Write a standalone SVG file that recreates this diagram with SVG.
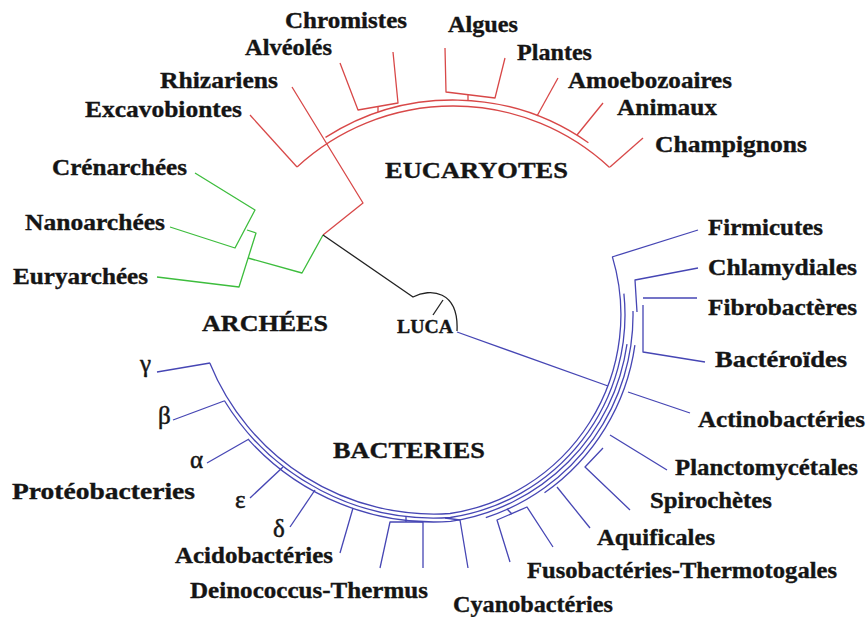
<svg xmlns="http://www.w3.org/2000/svg" width="868" height="617" viewBox="0 0 868 617">
<style>
text{font-family:"Liberation Serif","Times New Roman",serif;font-weight:bold;font-size:23px;fill:#151515;stroke:#151515;stroke-width:0.35}
.t{font-size:24px}
.g{font-weight:normal;font-size:25px;stroke-width:0.5}
.lu{font-size:18px}
path{fill:none;stroke-width:1.3;stroke-linejoin:round}
.eu path{stroke:#d84848}
.ar path{stroke:#3dbd3d}
.ba path{stroke:#4646b4}
.bk{stroke:#222}
</style>
<rect width="868" height="617" fill="#fff"/>
<g id="connectors">
 <g class="eu">
  <path d="M297.1,166.9 A230,230 0 0 1 609.6,167.5"/>
  <path d="M325.5,137.4 A236,236 0 0 1 588.4,142.7"/>
  <path d="M250,115 L297,167"/>
  <path d="M292,87 L363,203 L323,235"/>
  <path d="M340,63 L358,110 L398,103 L393,52"/>
  <path d="M378,106.5 L378,112"/>
  <path d="M445,48 L446,92 L495,98 L505,58"/>
  <path d="M468,95 L468,100.5"/>
  <path d="M558,78 L537,116"/>
  <path d="M603,103 L577,135"/>
  <path d="M643,138 L610,167"/>
 </g>
 <g class="ar">
  <path d="M195,173 L255,210 L235,248 L170,227"/>
  <path d="M247,230 L256,233 L239,287 L157,277"/>
  <path d="M248,258 L302,273 L323,235"/>
 </g>
 <g>
  <path class="bk" d="M323,235 L413,297 C430,288 459,290 457,331"/>
  <path class="bk" d="M443,300 L433,315"/>
 </g>
 <g class="ba">
  <path d="M457,332 L608,386"/>
  <path d="M209.8,363 A242,242 0 0 0 450,513.5 A201,201 0 0 0 612.4,256.9"/>
  <path d="M224.3,400.5 A246,246 0 0 0 450.3,517.5 A205,205 0 0 0 623.9,293.6"/>
  <path d="M248.5,439.6 A250,250 0 0 0 450.6,521.4 A209,209 0 0 0 627,344.1"/>
  <path d="M485.8,517.6 A213,213 0 0 0 633,311"/>
  <path d="M544.5,492.8 A217,217 0 0 0 634.9,345.2"/>
  <path d="M157,372 L210,363"/>
  <path d="M173,420 L224,401"/>
  <path d="M207,463 L249,439"/>
  <path d="M250,498 L283,467"/>
  <path d="M290,527 L315,490"/>
  <path d="M340,553 L353,508"/>
  <path d="M380,568 L390,522 L423,522 L423,568"/>
  <path d="M406,522 L406,517"/>
  <path d="M468,568 L460,520 L445,518"/>
  <path d="M510,562 L497,520 L527,507 L553,547"/>
  <path d="M512,514 L507,509"/>
  <path d="M590,528 L557,487"/>
  <path d="M630,510 L585,467 L603,448"/>
  <path d="M667,470 L610,435"/>
  <path d="M690,413 L628,392"/>
  <path d="M705,362 L643,352 L643,305"/>
  <path d="M697,298 L643,298"/>
  <path d="M698,268 L635,280 L637,312"/>
  <path d="M698,230 L612,257"/>
 </g>
</g>
<g id="n-chromistes"><text x="285" y="28" textLength="122" lengthAdjust="spacingAndGlyphs">Chromistes</text></g>
<g id="n-algues"><text x="448" y="32" textLength="70" lengthAdjust="spacingAndGlyphs">Algues</text></g>
<g id="n-alveoles"><text x="245" y="55" textLength="87" lengthAdjust="spacingAndGlyphs">Alvéolés</text></g>
<g id="n-rhizariens"><text x="160" y="88" textLength="118" lengthAdjust="spacingAndGlyphs">Rhizariens</text></g>
<g id="n-excavobiontes"><text x="85" y="117" textLength="157" lengthAdjust="spacingAndGlyphs">Excavobiontes</text></g>
<g id="n-plantes"><text x="517" y="60" textLength="75" lengthAdjust="spacingAndGlyphs">Plantes</text></g>
<g id="n-amoebozoaires"><text x="568" y="88" textLength="164" lengthAdjust="spacingAndGlyphs">Amoebozoaires</text></g>
<g id="n-animaux"><text x="617" y="115" textLength="100" lengthAdjust="spacingAndGlyphs">Animaux</text></g>
<g id="n-champignons"><text x="655" y="152" textLength="152" lengthAdjust="spacingAndGlyphs">Champignons</text></g>
<g id="n-eucaryotes"><text class="t" x="385" y="178" textLength="183" lengthAdjust="spacingAndGlyphs">EUCARYOTES</text></g>
<g id="n-crenarchees"><text x="52" y="175" textLength="135" lengthAdjust="spacingAndGlyphs">Crénarchées</text></g>
<g id="n-nanoarchees"><text x="25" y="230" textLength="140" lengthAdjust="spacingAndGlyphs">Nanoarchées</text></g>
<g id="n-euryarchees"><text x="13" y="284" textLength="135" lengthAdjust="spacingAndGlyphs">Euryarchées</text></g>
<g id="n-archees"><text class="t" x="202" y="331" textLength="126" lengthAdjust="spacingAndGlyphs">ARCHÉES</text></g>
<g id="n-luca"><text class="lu" x="397" y="333" textLength="56" lengthAdjust="spacingAndGlyphs">LUCA</text></g>
<g id="n-firmicutes"><text x="708" y="235" textLength="115" lengthAdjust="spacingAndGlyphs">Firmicutes</text></g>
<g id="n-chlamydiales"><text x="708" y="275" textLength="149" lengthAdjust="spacingAndGlyphs">Chlamydiales</text></g>
<g id="n-fibrobacteres"><text x="708" y="315" textLength="149" lengthAdjust="spacingAndGlyphs">Fibrobactères</text></g>
<g id="n-bacteroides"><text x="715" y="367" textLength="132" lengthAdjust="spacingAndGlyphs">Bactéroïdes</text></g>
<g id="n-actinobacteries"><text x="698" y="427" textLength="167" lengthAdjust="spacingAndGlyphs">Actinobactéries</text></g>
<g id="n-planctomycetales"><text x="675" y="475" textLength="183" lengthAdjust="spacingAndGlyphs">Planctomycétales</text></g>
<g id="n-spirochetes"><text x="650" y="508" textLength="122" lengthAdjust="spacingAndGlyphs">Spirochètes</text></g>
<g id="n-aquificales"><text x="597" y="545" textLength="118" lengthAdjust="spacingAndGlyphs">Aquificales</text></g>
<g id="n-fusobacteries"><text x="527" y="578" textLength="310" lengthAdjust="spacingAndGlyphs">Fusobactéries-Thermotogales</text></g>
<g id="n-cyanobacteries"><text x="453" y="612" textLength="160" lengthAdjust="spacingAndGlyphs">Cyanobactéries</text></g>
<g id="n-deinococcus"><text x="190" y="598" textLength="238" lengthAdjust="spacingAndGlyphs">Deinococcus-Thermus</text></g>
<g id="n-acidobacteries"><text x="175" y="563" textLength="158" lengthAdjust="spacingAndGlyphs">Acidobactéries</text></g>
<g id="n-proteobacteries"><text x="12" y="499" textLength="183" lengthAdjust="spacingAndGlyphs">Protéobacteries</text></g>
<g id="n-bacteries"><text class="t" x="333" y="458" textLength="152" lengthAdjust="spacingAndGlyphs">BACTERIES</text></g>
<g id="n-gamma"><text class="g" x="140" y="372">γ</text></g>
<g id="n-beta"><text class="g" x="158" y="424">β</text></g>
<g id="n-alpha"><text class="g" x="190" y="468">α</text></g>
<g id="n-epsilon"><text class="g" x="235" y="508">ε</text></g>
<g id="n-delta"><text class="g" x="273" y="537">δ</text></g>
</svg>
